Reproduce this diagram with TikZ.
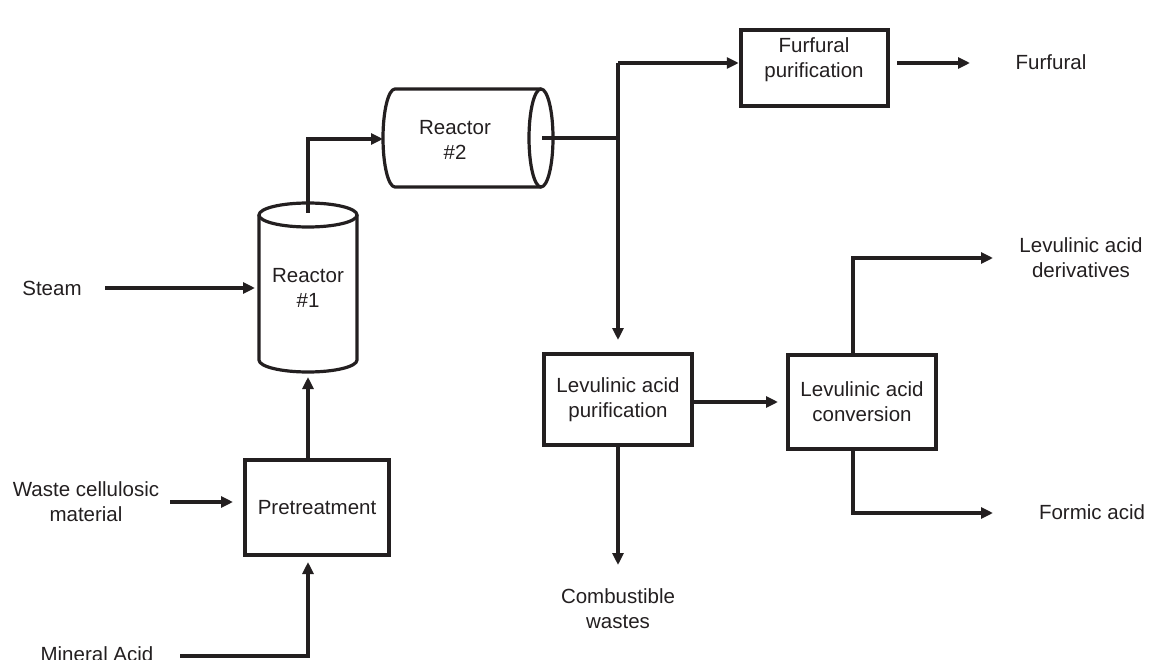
\documentclass[tikz,border=0pt]{standalone}
\usepackage{fontspec}
\setmainfont{Liberation Sans}
\usetikzlibrary{arrows.meta}
\definecolor{ink}{HTML}{231F20}
\begin{document}
\begin{tikzpicture}[x=1pt,y=-1pt,
  lbl/.style={font=\fontsize{20.5}{25}\selectfont, text=ink, align=center, inner sep=0pt},
  box/.style={draw=ink, line width=3.6pt, inner sep=0pt, outer sep=0pt,
              font=\fontsize{20.5}{25}\selectfont, text=ink, align=center},
  cyl/.style={draw=ink, line width=3.2pt},
  pipe/.style={draw=ink, line width=4pt},
  flow/.style={pipe, -{Triangle[length=12pt,width=11pt]}}]
\useasboundingbox (0,0) rectangle (1156,660);
% reactor #1 (vertical cylinder)
\draw[cyl] (259,215) -- (259,360) arc[start angle=180,end angle=360,x radius=49pt,y radius=12pt] -- (357,215);
\draw[cyl] (308,215) ellipse[x radius=49pt,y radius=12pt];
\node[lbl] (r1) at (308,288) {Reactor\\\#1};
% reactor #2 (horizontal cylinder)
\draw[cyl] (541,89) -- (395,89) arc[start angle=90,end angle=270,x radius=12pt,y radius=49pt] -- (541,187);
\draw[cyl] (541,138) ellipse[x radius=12pt,y radius=49pt];
\node[lbl] (r2) at (455,140) {Reactor\\\#2};
% boxes
\node[box, minimum width=144.5pt, minimum height=95.5pt] (pt) at (317,507.5) {Pretreatment};
\node[box, minimum width=147.5pt, minimum height=76.5pt] (ff) at (814.5,68) {};
\node[lbl] (fft) at (814,60) {Furfural\\purification};
\node[box, minimum width=148.5pt, minimum height=91.5pt] (lap) at (618,399.5) {Levulinic acid\\purification};
\node[box, minimum width=148.5pt, minimum height=94.5pt] (lac) at (862,402) {Levulinic acid\\conversion};
% labels
\node[lbl] (steam) at (52,288) {Steam};
\node[lbl] (waste) at (86,502) {Waste cellulosic\\material};
\node[lbl] (acid) at (97,654) {Mineral Acid};
\node[lbl] (comb) at (618,609) {Combustible\\wastes};
\node[lbl] (furf) at (1051,62) {Furfural};
\node[lbl] (lad) at (1081,258) {Levulinic acid\\derivatives};
\node[lbl] (form) at (1092,512) {Formic acid};
% ports
\coordinate (steamout) at (105,288);
\coordinate (r1left) at (255,288);
\coordinate (r1top) at (308,213);
\coordinate (r1bot) at (308,377);
\coordinate (r2left) at (383,139);
\coordinate (r2right) at (542,138);
\coordinate (j1) at (618,138);
\coordinate (j2) at (618,63);
\coordinate (lapin) at (618,340);
\coordinate (wasteout) at (170,502);
\coordinate (ptin) at (233,502);
\coordinate (acidout) at (180,656);
\coordinate (ptbot) at (308,562);
\coordinate (pttop) at (308,459);
\coordinate (ffout) at (897,63);
\coordinate (furfin) at (970,63);
\coordinate (lapout) at (694,402);
\coordinate (lacin) at (778,402);
\coordinate (lacup) at (853,353);
\coordinate (lacdown) at (853,451);
\coordinate (ladin) at (993,258);
\coordinate (formin) at (993,513);
\coordinate (combin) at (618,565);
% connectors
\draw[flow] (steamout) -- (r1left);
\draw[flow] (wasteout) -- (ptin);
\draw[flow] (acidout) -| (ptbot);
\draw[flow] (pttop) -- (r1bot);
\draw[flow] (r1top) |- (r2left);
\draw[pipe] (r2right) -- (j1);
\draw[flow] (j2) -- ([xshift=-2pt]ff.west |- j2);
\draw[flow] (j2) -- (lapin);
\draw[flow] (ffout) -- (furfin);
\draw[flow] (lapout) -- (lacin);
\draw[flow] (lacup) |- (ladin);
\draw[flow] (lacdown) |- (formin);
\draw[flow] (lap.south) -- (combin);
\end{tikzpicture}
\end{document}
